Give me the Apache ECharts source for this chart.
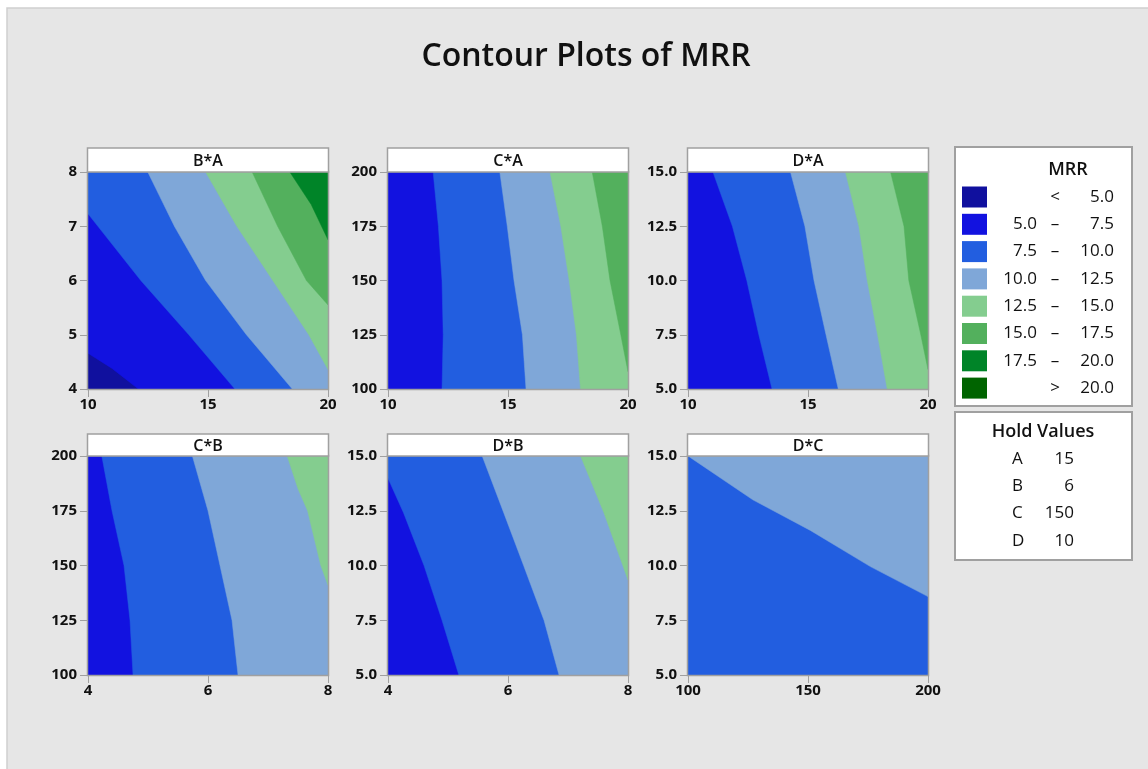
<!DOCTYPE html>
<html>
<head>
<meta charset="utf-8">
<title>Contour Plots of MRR</title>
<script src="https://cdn.jsdelivr.net/npm/echarts@6/dist/echarts.min.js"></script>
<style>
  html, body { margin: 0; padding: 0; background: #fff; }
  #main { width: 1148px; height: 769px; }
</style>
</head>
<body>
<div id="main"></div>
<script>
// MRR levels (legend)
var levelColors = ['#10109e', '#1212e0', '#225ee0', '#7fa7d8', '#84cd8f', '#53b05d', '#008428', '#006400'];
var levelLow = ['', '5.0', '7.5', '10.0', '12.5', '15.0', '17.5', ''];
var levelSep = ['<', '–', '–', '–', '–', '–', '–', '>'];
var levelHigh = ['5.0', '7.5', '10.0', '12.5', '15.0', '17.5', '20.0', '20.0'];

var holdNames = ['A', 'B', 'C', 'D'];
var holdValues = [15, 6, 150, 10];

// panels
var panelNames = ['B*A', 'C*A', 'D*A', 'C*B', 'D*B', 'D*C'];
var xRanges = [[10, 20], [10, 20], [10, 20], [4, 8], [4, 8], [100, 200]];
var yRanges = [[4, 8], [100, 200], [5, 15], [100, 200], [5, 15], [5, 15]];
var xSteps = [5, 5, 5, 2, 2, 50];
var ySteps = [1, 25, 2.5, 25, 2.5, 2.5];
var baseLevel = [0, 1, 1, 1, 1, 2];   // lowest band in each panel

// contour lines, one per band edge going up from baseLevel
// (the higher side lies on the left of the path)
var contoursBA = [
  [[10, 4.66], [11, 4.38], [12.1, 4]],
  [[10, 7.23], [12.2, 6.0], [14.2, 5.0], [16.12, 4]],
  [[12.49, 8], [13.6, 7.0], [14.9, 6.0], [16.6, 5.0], [18.51, 4]],
  [[14.9, 8], [16.2, 7], [17.7, 6], [19.2, 5], [20, 4.36]],
  [[16.84, 8], [17.9, 7], [19.1, 6], [20, 5.55]],
  [[18.41, 8], [19.3, 7.4], [20, 6.75]]
];
var contoursCA = [
  [[11.88, 200], [12.1, 175], [12.25, 150], [12.3, 125], [12.25, 100]],
  [[14.66, 200], [14.97, 175], [15.25, 150], [15.6, 125], [15.75, 100]],
  [[16.75, 200], [17.2, 175], [17.55, 150], [17.85, 125], [18.02, 100]],
  [[18.51, 200], [18.93, 175], [19.25, 150], [19.7, 125], [20, 108]]
];
var contoursDA = [
  [[11.04, 15], [11.85, 12.5], [12.45, 10], [12.95, 7.5], [13.5, 5]],
  [[14.27, 15], [14.87, 12.5], [15.25, 10], [15.75, 7.5], [16.26, 5]],
  [[16.56, 15], [17.12, 12.5], [17.47, 10], [17.9, 7.5], [18.3, 5]],
  [[18.44, 15], [19.0, 12.5], [19.2, 10], [19.7, 7.5], [20, 5.9]]
];
var contoursCB = [
  [[4.23, 200], [4.4, 175], [4.6, 150], [4.7, 125], [4.75, 100]],
  [[5.74, 200], [6.0, 175], [6.2, 150], [6.4, 125], [6.5, 100]],
  [[7.32, 200], [7.5, 185], [7.66, 175], [7.88, 150], [8, 141]]
];
var contoursDB = [
  [[4, 13.98], [4.26, 12.4], [4.6, 10], [4.9, 7.5], [5.18, 5]],
  [[5.57, 15], [5.93, 12.4], [6.26, 10], [6.6, 7.5], [6.85, 5]],
  [[7.21, 15], [7.6, 12.4], [8, 9.34]]
];
var contoursDC = [
  [[100, 15], [127, 13.0], [151, 11.6], [176, 9.95], [200, 8.58]]
];
var panelContours = [contoursBA, contoursCA, contoursDA, contoursCB, contoursDB, contoursDC];

// layout
var colLeft = [88, 388, 688];
var rowTop = [172, 456];
var rowHeight = [217, 219];
var headerHeight = [24, 22];
var plotWidth = 240;

// close a contour line along the plot border on its higher side
function closeRegion(line, xr, yr) {
  function perim(p) {
    var fx = (p[0] - xr[0]) / (xr[1] - xr[0]);
    var fy = (p[1] - yr[0]) / (yr[1] - yr[0]);
    var e = 1e-6;
    if (fy < e) return fx;
    if (fx > 1 - e) return 1 + fy;
    if (fy > 1 - e) return 3 - fx;
    return 4 - fy;
  }
  var corners = [[xr[0], yr[0]], [xr[1], yr[0]], [xr[1], yr[1]], [xr[0], yr[1]]];
  var t0 = perim(line[line.length - 1]);
  var t1 = perim(line[0]);
  if (t1 <= t0) t1 += 4;
  var pts = line.slice();
  for (var c = 1; c <= 8; c++) {
    if (c > t0 && c < t1) pts.push(corners[c % 4]);
  }
  return pts;
}

var grids = [], xAxes = [], yAxes = [], series = [], graphics = [];

panelNames.forEach(function (name, i) {
  var col = i % 3, row = Math.floor(i / 3);
  var xr = xRanges[i], yr = yRanges[i];
  grids.push({ left: colLeft[col], top: rowTop[row], width: plotWidth, height: rowHeight[row] });

  var axisCommon = {
    axisLine: { show: true, lineStyle: { color: '#a0a0a0', width: 1 } },
    axisTick: { show: true, length: 8, lineStyle: { color: '#a0a0a0' } },
    splitLine: { show: false },
    axisLabel: { color: '#111', fontSize: 15, fontWeight: 'bold', fontFamily: 'Open Sans' }
  };
  xAxes.push(echarts.util.merge({
    type: 'value', gridIndex: i, min: xr[0], max: xr[1], interval: xSteps[i],
    axisLabel: { margin: 8 }
  }, axisCommon, true));
  yAxes.push(echarts.util.merge({
    type: 'value', gridIndex: i, min: yr[0], max: yr[1], interval: ySteps[i],
    axisLabel: {
      margin: 11,
      formatter: (function (step) {
        return function (v) { return step % 1 ? v.toFixed(1) : String(v); };
      })(ySteps[i])
    }
  }, axisCommon, true));

  // bands: base fill then each higher band stacked on top
  var regions = [{
    pts: [[xr[0], yr[0]], [xr[1], yr[0]], [xr[1], yr[1]], [xr[0], yr[1]]],
    color: levelColors[baseLevel[i]]
  }];
  panelContours[i].forEach(function (line, k) {
    regions.push({ pts: closeRegion(line, xr, yr), color: levelColors[baseLevel[i] + 1 + k] });
  });

  series.push({
    type: 'custom',
    name: name,
    xAxisIndex: i,
    yAxisIndex: i,
    silent: true,
    clip: true,
    data: regions.map(function (r) { return r.pts[0]; }),
    renderItem: function (params, api) {
      var r = regions[params.dataIndex];
      return {
        type: 'polygon',
        shape: { points: r.pts.map(function (p) { return api.coord(p); }) },
        style: { fill: r.color, stroke: r.color, lineWidth: 0.5 }
      };
    }
  });

  // panel frame and header strip
  var left = colLeft[col], top = rowTop[row];
  graphics.push({
    type: 'rect', z: 50,
    shape: { x: left - 0.5, y: top - 0.5, width: plotWidth + 1, height: rowHeight[row] + 1 },
    style: { fill: 'none', stroke: '#a0a0a0', lineWidth: 1.5 }
  });
  graphics.push({
    type: 'rect', z: 50,
    shape: { x: left - 0.5, y: top - headerHeight[row], width: plotWidth + 1, height: headerHeight[row] },
    style: { fill: '#fff', stroke: '#a0a0a0', lineWidth: 1.5 }
  });
  graphics.push({
    type: 'text', z: 51,
    x: left + plotWidth / 2, y: top - headerHeight[row] / 2 + 1,
    style: {
      text: name, align: 'center', verticalAlign: 'middle',
      font: '600 16px "Open Sans"', fill: '#111'
    }
  });
});

// page background
graphics.unshift({
  type: 'rect', z: -10,
  shape: { x: 7, y: 8, width: 1160, height: 780 },
  style: { fill: '#e6e6e6', stroke: '#cfcfcf', lineWidth: 1.5 }
});

// MRR legend box
graphics.push({
  type: 'rect', z: 50,
  shape: { x: 955, y: 147, width: 177, height: 259 },
  style: { fill: '#fff', stroke: '#a0a0a0', lineWidth: 2 }
});
graphics.push({
  type: 'text', z: 51, x: 1068, y: 170,
  style: { text: 'MRR', align: 'center', verticalAlign: 'middle', font: '600 18px "Open Sans"', fill: '#111' }
});
levelColors.forEach(function (c, k) {
  var cy = 197 + k * 27.3;
  graphics.push({
    type: 'rect', z: 51,
    shape: { x: 962, y: cy - 10.5, width: 25, height: 21 },
    style: { fill: c }
  });
  var font = '17px "Open Sans"';
  graphics.push({ type: 'text', z: 51, x: 1037, y: cy,
    style: { text: levelLow[k], align: 'right', verticalAlign: 'middle', font: font, fill: '#111' } });
  graphics.push({ type: 'text', z: 51, x: 1055, y: cy,
    style: { text: levelSep[k], align: 'center', verticalAlign: 'middle', font: font, fill: '#111' } });
  graphics.push({ type: 'text', z: 51, x: 1114, y: cy,
    style: { text: levelHigh[k], align: 'right', verticalAlign: 'middle', font: font, fill: '#111' } });
});

// hold values box
graphics.push({
  type: 'rect', z: 50,
  shape: { x: 955, y: 412, width: 177, height: 148 },
  style: { fill: '#fff', stroke: '#a0a0a0', lineWidth: 2 }
});
graphics.push({
  type: 'text', z: 51, x: 1043, y: 432,
  style: { text: 'Hold Values', align: 'center', verticalAlign: 'middle', font: '600 18px "Open Sans"', fill: '#111' }
});
holdNames.forEach(function (n, k) {
  var cy = 459 + k * 27.3;
  graphics.push({ type: 'text', z: 51, x: 1012, y: cy,
    style: { text: n, align: 'left', verticalAlign: 'middle', font: '17px "Open Sans"', fill: '#111' } });
  graphics.push({ type: 'text', z: 51, x: 1074, y: cy,
    style: { text: String(holdValues[k]), align: 'right', verticalAlign: 'middle', font: '17px "Open Sans"', fill: '#111' } });
});

var chart = echarts.init(document.getElementById('main'));
chart.setOption({
  animation: false,
  title: {
    text: 'Contour Plots of MRR',
    left: 581, top: 36, textAlign: 'center',
    textStyle: { fontFamily: 'Open Sans', fontSize: 32, fontWeight: 600, color: '#111' }
  },
  grid: grids,
  xAxis: xAxes,
  yAxis: yAxes,
  series: series,
  graphic: graphics
});
</script>
</body>
</html>
